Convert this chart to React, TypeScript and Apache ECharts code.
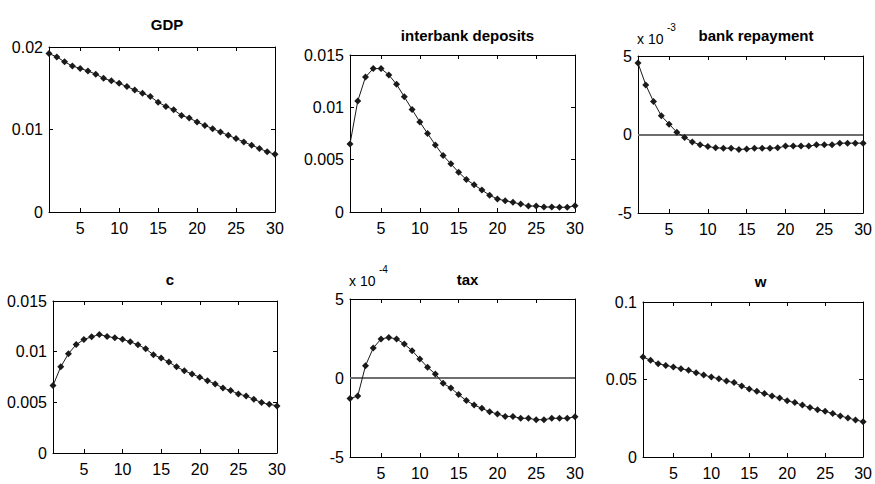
import React, { useEffect, useRef } from "react";
import * as echarts from "echarts";

const periods = [1, 2, 3, 4, 5, 6, 7, 8, 9, 10, 11, 12, 13, 14, 15, 16, 17, 18, 19, 20, 21, 22, 23, 24, 25, 26, 27, 28, 29, 30];
const xTickLabels = [5, 10, 15, 20, 25, 30];

const gdp = [0.0192, 0.0188, 0.0182, 0.0177, 0.0174, 0.0171, 0.0167, 0.0162, 0.0159, 0.0156, 0.0152, 0.0148, 0.0144, 0.014, 0.0133, 0.0128, 0.0124, 0.0117, 0.0114, 0.0109, 0.0105, 0.0101, 0.0097, 0.0093, 0.0089, 0.0085, 0.0081, 0.0077, 0.0073, 0.007];
const interbank = [0.0065, 0.0106, 0.0129, 0.0137, 0.0137, 0.0131, 0.0122, 0.011, 0.0098, 0.0086, 0.0075, 0.0064, 0.0054, 0.0046, 0.0038, 0.0031, 0.0026, 0.0021, 0.0016, 0.00124, 0.00108, 0.00092, 0.00076, 0.00057, 0.00057, 0.00048, 0.00048, 0.00045, 0.00045, 0.0006];
const bankRepayment = [4.55, 3.16, 2.1, 1.19, 0.66, 0.15, -0.19, -0.47, -0.66, -0.76, -0.85, -0.87, -0.87, -0.95, -0.93, -0.87, -0.87, -0.87, -0.85, -0.74, -0.74, -0.74, -0.74, -0.66, -0.66, -0.66, -0.55, -0.55, -0.55, -0.55];
const cons = [0.00665, 0.0085, 0.0098, 0.0107, 0.0112, 0.01146, 0.0117, 0.0115, 0.01137, 0.01123, 0.01097, 0.01068, 0.01028, 0.0097, 0.00937, 0.00897, 0.0085, 0.00812, 0.0078, 0.00747, 0.00714, 0.00681, 0.00642, 0.00616, 0.00583, 0.00563, 0.0053, 0.00498, 0.00481, 0.00465];
const tax = [-1.3, -1.14, 0.78, 1.9, 2.47, 2.57, 2.47, 2.15, 1.73, 1.2, 0.68, 0.25, -0.34, -0.63, -1.05, -1.43, -1.71, -1.92, -2.13, -2.28, -2.43, -2.43, -2.55, -2.55, -2.64, -2.64, -2.55, -2.55, -2.55, -2.45];
const wage = [0.0645, 0.0624, 0.0602, 0.0591, 0.0581, 0.057, 0.0559, 0.0544, 0.0529, 0.0516, 0.0505, 0.049, 0.048, 0.0458, 0.0439, 0.0424, 0.0409, 0.0394, 0.0381, 0.0363, 0.0351, 0.0335, 0.032, 0.0305, 0.0295, 0.028, 0.0265, 0.0252, 0.0239, 0.0228];

const titles = ["GDP", "interbank deposits", "bank repayment", "c", "tax", "w"];
const seriesValues = [gdp, interbank, bankRepayment, cons, tax, wage];
const yMins = [0, 0, -5, 0, -5, 0];
const yMaxs = [0.02, 0.015, 5, 0.015, 5, 0.1];
const yIntervals = [0.01, 0.005, 5, 0.005, 5, 0.05];
const zeroLine = [false, false, true, false, true, false];

const FONT = "'Liberation Sans', Arial, sans-serif";

const grids = [
  { left: 49, top: 47, width: 226, height: 165 },
  { left: 350, top: 55, width: 225, height: 157 },
  { left: 638, top: 56, width: 226, height: 157 },
  { left: 53, top: 301, width: 224, height: 152 },
  { left: 350, top: 299, width: 225, height: 158 },
  { left: 643, top: 302, width: 225, height: 155 },
];
const titleTops = [12, 23, 23, 267, 267, 269];

function fmt(v: number) {
  if (v === 0) return "0";
  return String(+v.toFixed(4));
}

export default function App() {
  const ref = useRef<HTMLDivElement>(null);
  useEffect(() => {
    document.body.style.margin = "0";
    const chart = echarts.init(ref.current!, null, { renderer: "svg" });
    const xAxis: any[] = [];
    const yAxis: any[] = [];
    const series: any[] = [];
    const title: any[] = [];
    grids.forEach((g, i) => {
      const common = {
        gridIndex: i,
        type: "value",
        axisLine: { show: true, onZero: false, lineStyle: { color: "#000", width: 1 } },
        splitLine: { show: false },
      };
      const tick = { show: true, inside: true, length: 4, lineStyle: { color: "#000" } };
      xAxis.push({
        ...common,
        min: 1,
        max: 30,
        position: "bottom",
        axisTick: { ...tick, customValues: xTickLabels },
        axisLabel: { show: true, customValues: xTickLabels, color: "#000", fontFamily: FONT, fontSize: 16, margin: 8 },
      });
      xAxis.push({
        ...common,
        min: 1,
        max: 30,
        position: "top",
        axisTick: { ...tick, customValues: xTickLabels },
        axisLabel: { show: false },
      });
      yAxis.push({
        ...common,
        min: yMins[i],
        max: yMaxs[i],
        interval: yIntervals[i],
        position: "left",
        axisTick: tick,
        axisLabel: { show: true, color: "#000", fontFamily: FONT, fontSize: 16, margin: 6, formatter: fmt },
      });
      yAxis.push({
        ...common,
        min: yMins[i],
        max: yMaxs[i],
        interval: yIntervals[i],
        position: "right",
        axisTick: tick,
        axisLabel: { show: false },
      });
      series.push({
        type: "line",
        xAxisIndex: 2 * i,
        yAxisIndex: 2 * i,
        data: periods.map((p, k) => [p, seriesValues[i][k]]),
        symbol: "diamond",
        symbolSize: 7,
        itemStyle: { color: "#1a1a1a" },
        lineStyle: { color: "#1a1a1a", width: 1 },
        z: 3,
        markLine: zeroLine[i]
          ? {
              silent: true,
              symbol: "none",
              label: { show: false },
              lineStyle: { color: "#6e6e6e", width: 2, type: "solid" },
              data: [{ yAxis: 0 }],
              z: 1,
            }
          : undefined,
      });
      title.push({
        text: titles[i],
        left: g.left + g.width / 2,
        top: titleTops[i],
        textAlign: "center",
        textStyle: { fontFamily: FONT, fontSize: 15, fontWeight: "bold", color: "#000" },
      });
    });
    chart.setOption({
      animation: false,
      backgroundColor: "#fff",
      title,
      grid: grids.map((g) => ({ ...g, containLabel: false })),
      xAxis,
      yAxis,
      series,
      graphic: [
        { type: "text", left: 637, top: 32, style: { text: "x 10", fontFamily: FONT, fontSize: 14, fill: "#000" } },
        { type: "text", left: 667, top: 22, style: { text: "-3", fontFamily: FONT, fontSize: 10, fill: "#000" } },
        { type: "text", left: 349, top: 274, style: { text: "x 10", fontFamily: FONT, fontSize: 14, fill: "#000" } },
        { type: "text", left: 379, top: 264, style: { text: "-4", fontFamily: FONT, fontSize: 10, fill: "#000" } },
      ],
    });
    return () => chart.dispose();
  }, []);
  return <div ref={ref} style={{ width: 875, height: 484 }} />;
}
